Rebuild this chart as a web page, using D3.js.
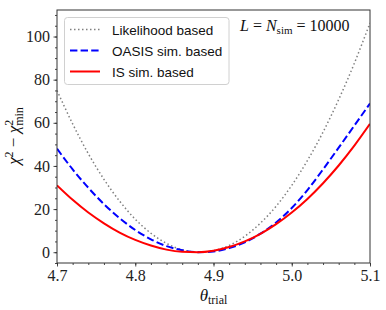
<!DOCTYPE html>
<html>
<head>
<meta charset="utf-8">
<script src="https://cdn.jsdelivr.net/npm/d3@7"></script>
<style>
  body { margin: 0; background: #fff; }
</style>
</head>
<body>
<div id="chart"></div>
<script>
var thetaTrial = [4.70, 4.72, 4.74, 4.76, 4.78, 4.80, 4.82, 4.84, 4.86, 4.88, 4.90,
  4.92, 4.94, 4.96, 4.98, 5.00, 5.02, 5.04, 5.06, 5.08, 5.10];
var likelihood = [75.0, 59.5, 45.7, 33.8, 23.7, 15.3, 8.8, 4.1, 1.1, 0.0, 0.7,
  3.1, 7.4, 13.5, 21.3, 31.0, 42.5, 55.7, 70.8, 87.6, 106.3];
var oasis = [48.0, 38.4, 29.9, 22.3, 15.8, 10.3, 6.0, 2.8, 0.9, 0.0, 0.3,
  1.9, 4.6, 8.6, 13.8, 20.5, 28.8, 38.4, 48.5, 58.7, 69.0];
var isSim = [31.0, 24.3, 18.4, 13.4, 9.1, 5.7, 3.1, 1.2, 0.2, 0.0, 0.7,
  2.4, 5.0, 8.5, 13.0, 18.4, 24.7, 32.0, 40.2, 49.4, 59.5];
var seriesNames = ["Likelihood based", "OASIS sim. based", "IS sim. based"];
var xTicks = [4.7, 4.8, 4.9, 5.0, 5.1];
var yTicks = [0, 20, 40, 60, 80, 100];

(function () {
  var w = 386, h = 310,
    pLeft = 57, pRight = 370, pTop = 10, pBottom = 263;

  var svg = d3.select("#chart").append("svg")
    .attr("width", w)
    .attr("height", h)
    .style("font-family", "Liberation Serif, serif");

  var x = d3.scaleLinear().domain([4.7, 5.1]).range([pLeft, pRight]);
  var y = d3.scaleLinear().domain([-5, 112.3]).range([pBottom, pTop]);

  var styles = [
    {data: likelihood, color: "#808080", width: 1.5, dash: "1.5,2.5"},
    {data: oasis, color: "#0000ff", width: 2, dash: "7.4,3.2"},
    {data: isSim, color: "#ff0000", width: 2, dash: null}
  ];

  svg.append("clipPath").attr("id", "clip")
    .append("rect")
    .attr("x", pLeft).attr("y", pTop)
    .attr("width", pRight - pLeft).attr("height", pBottom - pTop);

  var line = d3.line()
    .x(function (d, i) { return x(thetaTrial[i]); })
    .y(function (d) { return y(d); })
    .curve(d3.curveMonotoneX);

  //曲线
  svg.append("g")
    .attr("clip-path", "url(#clip)")
    .selectAll("path")
    .data(styles)
    .enter().append("path")
    .attr("fill", "none")
    .attr("stroke", function (d) { return d.color; })
    .attr("stroke-width", function (d) { return d.width; })
    .attr("stroke-dasharray", function (d) { return d.dash; })
    .attr("d", function (d) { return line(d.data); });

  //坐标轴
  var xAxis = svg.append("g")
    .attr("transform", "translate(0," + pBottom + ")")
    .call(d3.axisBottom(x).tickValues(xTicks).tickSize(3.5).tickPadding(3.5)
      .tickFormat(d3.format(".1f")));
  var xMinor = svg.append("g")
    .attr("transform", "translate(0," + pBottom + ")")
    .call(d3.axisBottom(x).tickValues(x.ticks(20)).tickSize(2).tickFormat(""));

  var yAxis = svg.append("g")
    .attr("transform", "translate(" + pLeft + ",0)")
    .call(d3.axisLeft(y).tickValues(yTicks).tickSize(3.5).tickPadding(3.5));
  var yMinor = svg.append("g")
    .attr("transform", "translate(" + pLeft + ",0)")
    .call(d3.axisLeft(y).tickValues(y.ticks(25)).tickSize(2).tickFormat(""));

  [xAxis, xMinor, yAxis, yMinor].forEach(function (g) {
    g.attr("font-family", "Liberation Serif, serif").attr("font-size", 16);
    g.select(".domain").remove();
    g.selectAll("line").attr("stroke", "#333").attr("stroke-width", 0.9);
    g.selectAll("text").attr("fill", "#222");
  });
  xAxis.selectAll("text").attr("dy", "0.71em");

  svg.append("rect")
    .attr("x", pLeft).attr("y", pTop)
    .attr("width", pRight - pLeft).attr("height", pBottom - pTop)
    .attr("fill", "none")
    .attr("stroke", "#333")
    .attr("stroke-width", 1);

  //图例
  var legend = svg.append("g");
  legend.append("rect")
    .attr("x", 64.5).attr("y", 17.5)
    .attr("width", 164.5).attr("height", 67)
    .attr("rx", 3)
    .attr("fill", "#fff").attr("fill-opacity", 0.8)
    .attr("stroke", "#d0d0d0").attr("stroke-width", 1);

  var rows = legend.selectAll("g.row")
    .data(styles)
    .enter().append("g")
    .attr("class", "row")
    .attr("transform", function (d, i) { return "translate(0," + (29.5 + i * 21) + ")"; });
  rows.append("line")
    .attr("x1", 70).attr("x2", 100)
    .attr("stroke", function (d) { return d.color; })
    .attr("stroke-width", function (d) { return d.width; })
    .attr("stroke-dasharray", function (d) { return d.dash; });
  rows.append("text")
    .attr("x", 112).attr("y", 5)
    .style("font-family", "Liberation Sans, sans-serif")
    .style("font-size", "13.5px")
    .attr("fill", "#111")
    .text(function (d, i) { return seriesNames[i]; });

  //注释
  var note = svg.append("text")
    .attr("x", 240).attr("y", 31)
    .style("font-size", "16px")
    .attr("fill", "#111");
  note.append("tspan").style("font-style", "italic").text("L");
  note.append("tspan").text(" = ");
  note.append("tspan").style("font-style", "italic").text("N");
  note.append("tspan").attr("dy", 3).style("font-size", "11px").text("sim");
  note.append("tspan").attr("dy", -3).text(" = 10000");

  //轴标题
  var xl = svg.append("text")
    .attr("x", 213.5).attr("y", 301)
    .attr("text-anchor", "middle")
    .style("font-size", "17px")
    .attr("fill", "#111");
  xl.append("tspan").style("font-style", "italic").text("θ");
  xl.append("tspan").attr("dy", 3).style("font-size", "12px").text("trial");

  var yl = svg.append("text")
    .attr("transform", "translate(19,136) rotate(-90)")
    .attr("text-anchor", "middle")
    .style("font-size", "17px")
    .attr("fill", "#111");
  yl.append("tspan").style("font-style", "italic").text("χ");
  yl.append("tspan").attr("dy", -6).style("font-size", "12px").text("2");
  yl.append("tspan").attr("dy", 6).text(" − ");
  yl.append("tspan").style("font-style", "italic").text("χ");
  yl.append("tspan").attr("dy", -6).style("font-size", "12px").text("2");
  yl.append("tspan").attr("dx", -6).attr("dy", 10).style("font-size", "12px").text("min");
})();
</script>
</body>
</html>
